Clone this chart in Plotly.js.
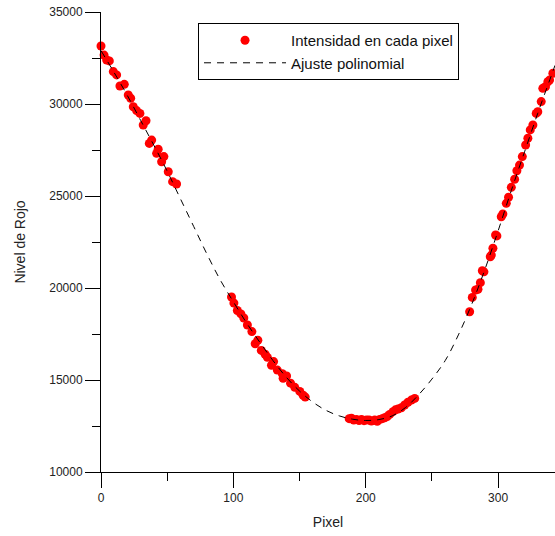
<!DOCTYPE html>
<html>
<head>
<meta charset="utf-8">
<script src="https://cdn.plot.ly/plotly-3.0.1.min.js"></script>
<style>html,body{margin:0;padding:0;background:#fff;}#chart{width:555px;height:536px;}</style>
</head>
<body>
<div id="chart"></div>
<script>
// Measured points (pixel index, red level)
const pixelX = [
  0, 2.3, 4.3, 6.3, 9.3, 11.8, 14.3, 17.6, 20.6, 22.4, 24.4, 26.9, 29.4, 31.9, 34.0, 36.5, 38.3, 42.0, 43.2, 45.8, 47.5, 50.8, 54.1, 57.1,
  98.6, 100.4, 103.0, 105.7, 107.9, 110.6, 114.0, 116.5, 118.5, 121.1, 124.0, 125.7, 128.8, 130.4, 133.2, 137.0, 137.6, 140.2, 143.2, 146.4, 150.2, 152.7, 154.3,
  187.5, 189.2, 191.0, 193.0, 195.0, 196.8, 198.7, 200.5, 202.5, 204.3, 206.8, 208.7, 210.6, 212.5, 214.3, 216.2, 218.1, 220.6, 222.5, 224.4, 226.9, 229.4, 231.9, 234.5, 237.0,
  278.5, 280.5, 283.0, 284.8, 286.6, 288.1, 289.3, 294.1, 294.9, 296.1, 298.1, 299.1, 302.4, 303.6, 306.2, 307.9, 310.0, 312.5, 314.2, 316.2, 318.3, 320.8, 322.5, 324.3, 326.3, 328.8, 330.0, 332.6, 333.8, 335.8, 337.6, 338.9, 341.4
];
const redLevel = [
  33150, 32660, 32390, 32340, 31760, 31580, 30980, 31070, 30490, 30310, 29850, 29640, 29490, 28860, 29090, 27860, 28040, 27320, 27540, 26860, 27140, 26320, 25780, 25650,
  19510, 19180, 18780, 18590, 18370, 17990, 17630, 16970, 17160, 16610, 16400, 16230, 15800, 16000, 15540, 15340, 15090, 15220, 14830, 14600, 14380, 14170, 14070,
  12900, 12920, 12820, 12860, 12800, 12860, 12790, 12820, 12830, 12770, 12820, 12760, 12860, 12900, 12950, 13010, 13130, 13280, 13380, 13420, 13490, 13640, 13790, 13910, 14000,
  18710, 19490, 19890, 19930, 20290, 20940, 20880, 21700, 21790, 22160, 22880, 22830, 23870, 24020, 24600, 24930, 25470, 25910, 26370, 26680, 27140, 27770, 28140, 28590, 28860, 29490, 29580, 30130, 30850, 30940, 31210, 31300, 31670
];
// Polynomial fit curve
const fitX = [0, 10, 20, 30, 40, 50, 60, 70, 80, 90, 100, 110, 120, 130, 140, 150, 160, 170, 180, 190, 200, 210, 220, 230, 240, 250, 260, 270, 280, 290, 300, 310, 320, 330, 340, 343];
const fitY = [32900, 31700, 30450, 29100, 27750, 26350, 24850, 23350, 21850, 20450, 19250, 18100, 17050, 16050, 15150, 14400, 13800, 13350, 13050, 12870, 12800, 12850, 13050, 13500, 14200, 15050, 16050, 17450, 19100, 21000, 23100, 25300, 27400, 29500, 31500, 32100];

const seriesNames = ['Intensidad en cada pixel', 'Ajuste polinomial'];
const xTitle = 'Pixel';
const yTitle = 'Nivel de Rojo';

const FONT = 'Liberation Sans, Arial, sans-serif';

const traces = [
  {
    x: pixelX, y: redLevel, type: 'scatter', mode: 'markers', name: seriesNames[0],
    marker: {color: '#ff0000', size: 9, line: {width: 0}}, cliponaxis: false
  },
  {
    x: fitX, y: fitY, type: 'scatter', mode: 'lines', name: seriesNames[1],
    line: {color: '#000000', width: 1, dash: '7px,6px', shape: 'spline', smoothing: 1}
  }
];

const layout = {
  width: 555, height: 536,
  margin: {l: 101, r: 0, t: 12, b: 64, pad: 0},
  paper_bgcolor: '#ffffff', plot_bgcolor: '#ffffff',
  font: {family: FONT, size: 12, color: '#222222'},
  showlegend: true,
  legend: {
    x: 0.2137, y: 0.976, xanchor: 'left', yanchor: 'top',
    bordercolor: '#000000', borderwidth: 1, bgcolor: '#ffffff',
    font: {family: FONT, size: 15, color: '#111111'},
    itemwidth: 82
  },
  xaxis: {
    range: [0, 343], showgrid: false, zeroline: false,
    showline: true, linecolor: '#000000', linewidth: 1,
    ticks: 'outside', ticklen: 15, tickwidth: 1, tickcolor: '#000000',
    dtick: 100, tick0: 0,
    minor: {dtick: 50, ticks: 'outside', ticklen: 8, tickcolor: '#000000', showgrid: false},
    tickfont: {family: FONT, size: 12, color: '#222222'},
    title: {text: xTitle, font: {family: FONT, size: 14, color: '#222222'}, standoff: 12},
    fixedrange: true
  },
  yaxis: {
    range: [10000, 35000], showgrid: false, zeroline: false,
    showline: true, linecolor: '#000000', linewidth: 1,
    ticks: 'outside', ticklen: 15, tickwidth: 1, tickcolor: '#000000',
    dtick: 5000, tick0: 0, tickformat: 'd', exponentformat: 'none',
    minor: {dtick: 2500, ticks: 'outside', ticklen: 8, tickcolor: '#000000', showgrid: false},
    tickfont: {family: FONT, size: 12, color: '#222222'},
    title: {text: yTitle, font: {family: FONT, size: 14, color: '#222222'}, standoff: 20},
    fixedrange: true
  }
};

Plotly.newPlot('chart', traces, layout, {displayModeBar: false, staticPlot: true});
</script>
</body>
</html>
